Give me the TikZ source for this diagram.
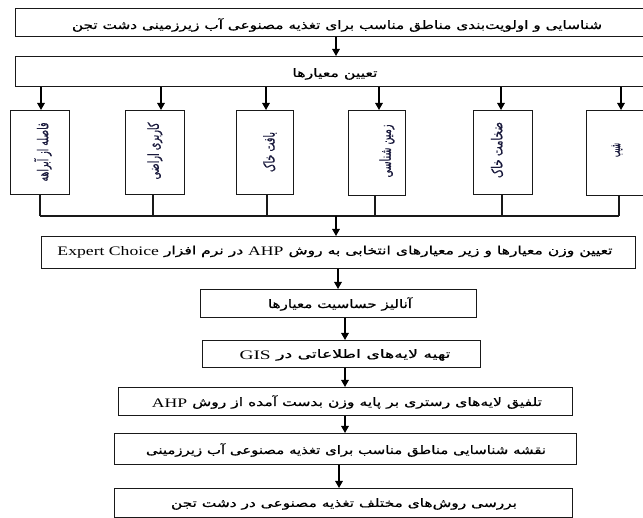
\documentclass[tikz,border=0pt]{standalone}
\usepackage{fontspec}
\usepackage{graphicx}
\setmainfont{Liberation Serif}
\newfontfamily\fa[Script=Arabic, FakeBold=0.6]{DejaVu Sans}
\newfontfamily\lat{Liberation Serif}
\TeXXeTstate=1
\usetikzlibrary{arrows.meta}
\definecolor{vcol}{RGB}{25,25,60}
\newcommand{\fat}[2]{\resizebox{#1pt}{\height}{#2}}
\newcommand{\la}[1]{\beginL\raisebox{-1.2pt}{\lat\fontsize{13}{14}\selectfont #1}\endL{}}
\begin{document}
\begin{tikzpicture}[x=1pt,y=-1pt,
  box/.style={draw=black!90, line width=1.2pt, rectangle, inner sep=0pt, anchor=north west},
  arr/.style={draw=black, line width=1.3pt, -{Triangle[length=7pt,width=7.5pt]}},
  ln/.style={draw=black!90, line width=1.2pt},
  txt/.style={inner sep=0pt, text=black, font=\fa\fontsize{11.5}{13}\selectfont},
  vtxt/.style={inner sep=0pt, rotate=90, text=vcol, font=\fa\fontsize{15}{17}\selectfont}]
\useasboundingbox (0,0) rectangle (643,518);
\fill[white] (0,0) rectangle (643,518);
\clip (0,0) rectangle (643,518);
% boxes
\node[box, minimum width=635pt, minimum height=28pt] (b1) at (15,8) {};
\node[box, minimum width=635pt, minimum height=30pt] (b2) at (15,56) {};
\node[box, minimum width=59pt, minimum height=84pt] (c1) at (10,110) {};
\node[box, minimum width=59pt, minimum height=84pt] (c2) at (125,110) {};
\node[box, minimum width=57pt, minimum height=84pt] (c3) at (236,110) {};
\node[box, minimum width=57pt, minimum height=85pt] (c4) at (348,110) {};
\node[box, minimum width=59pt, minimum height=84pt] (c5) at (473,110) {};
\node[box, minimum width=64pt, minimum height=85pt] (c6) at (586,110) {};
\node[box, minimum width=594pt, minimum height=32pt] (expert) at (41,236) {};
\node[box, minimum width=276pt, minimum height=28pt] (anal) at (200,289) {};
\node[box, minimum width=278pt, minimum height=27pt] (gis) at (202,340) {};
\node[box, minimum width=454pt, minimum height=28pt] (talfiq) at (118,387) {};
\node[box, minimum width=462pt, minimum height=31pt] (naqshe) at (114,433) {};
\node[box, minimum width=458pt, minimum height=29pt] (barresi) at (114,488) {};
% texts
\node[txt] (t1) at (337,25) {\fat{530}{\beginR شناسایی و اولویت‌بندی مناطق مناسب برای تغذیه مصنوعی آب زیرزمینی دشت تجن\endR}};
\node[txt] (t2) at (335,74) {\fat{85}{\beginR تعیین معیارها\endR}};
\node[txt] (t3) at (335,252) {\fat{555}{\beginR تعیین وزن معیارها و زیر معیارهای انتخابی به روش \la{AHP} در نرم افزار \la{Expert Choice}\endR}};
\node[txt] (t4) at (340,304) {\fat{144}{\beginR آنالیز حساسیت معیارها\endR}};
\node[txt] (t5) at (345,355) {\fat{211}{\beginR تهیه لایه‌های اطلاعاتی در \la{GIS}\endR}};
\node[txt] (t6) at (347,402) {\fat{390}{\beginR تلفیق لایه‌های رستری بر پایه وزن بدست آمده از روش \la{AHP}\endR}};
\node[txt] (t7) at (346,450) {\fat{400}{\beginR نقشه شناسایی مناطق مناسب برای تغذیه مصنوعی آب زیرزمینی\endR}};
\node[txt] (t8) at (344,504) {\fat{346}{\beginR بررسی روش‌های مختلف تغذیه مصنوعی در دشت تجن\endR}};
\node[vtxt] (v1) at (43,152) {\fat{59}{\beginR فاصله از آبراهه\endR}};
\node[vtxt] (v2) at (155,151) {\fat{57}{\beginR کاربری اراضی\endR}};
\node[vtxt] (v3) at (270,152) {\fat{40}{\beginR بافت خاک\endR}};
\node[vtxt] (v4) at (387,151) {\fat{53}{\beginR زمین شناسی\endR}};
\node[vtxt] (v5) at (497,150) {\fat{56}{\beginR ضخامت خاک\endR}};
\node[vtxt] (v6) at (617,150) {\fat{14}{\beginR شیب\endR}};
% connectors
\draw[arr] (b1.south -| 336,0) -- (b2.north -| 336,0);
\draw[arr] (b2.south -| 41,0) -- (c1.north -| 41,0);
\draw[arr] (b2.south -| 161,0) -- (c2.north -| 161,0);
\draw[arr] (b2.south -| 266,0) -- (c3.north -| 266,0);
\draw[arr] (b2.south -| 379,0) -- (c4.north -| 379,0);
\draw[arr] (b2.south -| 501,0) -- (c5.north -| 501,0);
\draw[arr] (b2.south -| 621,0) -- (c6.north -| 621,0);
\coordinate (k1) at (40,216);
\coordinate (k2) at (153,216);
\coordinate (k3) at (267,216);
\coordinate (k4) at (375,216);
\coordinate (k5) at (502,216);
\coordinate (k6) at (619,216);
\coordinate (k0) at (336,216);
\draw[ln] (c1.south -| k1) -- (k1);
\draw[ln] (c2.south -| k2) -- (k2);
\draw[ln] (c3.south -| k3) -- (k3);
\draw[ln] (c4.south -| k4) -- (k4);
\draw[ln] (c5.south -| k5) -- (k5);
\draw[ln] (c6.south -| k6) -- (k6);
\draw[ln] (k1) -- (k6);
\draw[arr] (k0) -- (expert.north -| k0);
\draw[arr] (expert.south -| 338,0) -- (anal.north -| 338,0);
\draw[arr] (anal.south -| 345,0) -- (gis.north -| 345,0);
\draw[arr] (gis.south -| 345,0) -- (talfiq.north -| 345,0);
\draw[arr] (talfiq.south -| 345,0) -- (naqshe.north -| 345,0);
\draw[arr] (naqshe.south -| 339,0) -- (barresi.north -| 339,0);
\end{tikzpicture}
\end{document}
